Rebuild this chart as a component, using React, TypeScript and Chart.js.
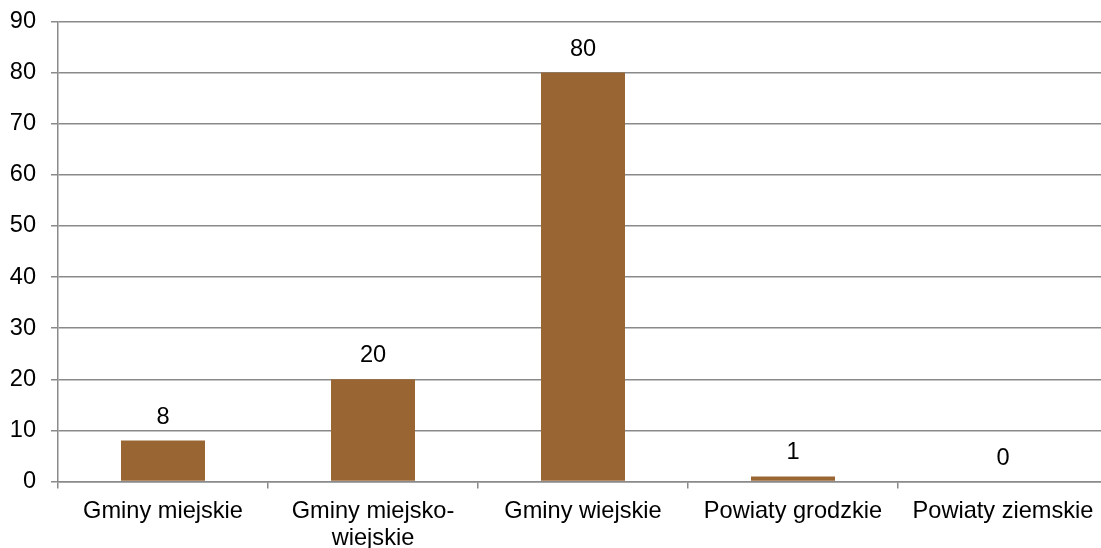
import React, { useEffect, useRef } from "react";
import { Chart, registerables } from "chart.js";

Chart.register(...registerables);

const categories: (string | string[])[] = [
  "Gminy miejskie",
  ["Gminy miejsko-", "wiejskie"],
  "Gminy wiejskie",
  "Powiaty grodzkie",
  "Powiaty ziemskie",
];
const values: number[] = [8, 20, 80, 1, 0];
const yMin = 0;
const yMax = 90;
const yStep = 10;

const FONT = "'Liberation Sans', Arial, sans-serif";
const FONT_SIZE = 23.6;
const GRID = "#8a8a8a";
const BAR = "#996633";

const valueLabels = {
  id: "valueLabels",
  afterDatasetsDraw(chart: any) {
    const ctx = chart.ctx;
    const meta = chart.getDatasetMeta(0);
    ctx.save();
    ctx.font = `${FONT_SIZE}px ${FONT}`;
    ctx.fillStyle = "#000000";
    ctx.textAlign = "center";
    ctx.textBaseline = "alphabetic";
    meta.data.forEach((el: any, i: number) => {
      ctx.fillText(String(values[i]), el.x, el.y - 17);
    });
    ctx.restore();
  },
};

export default function App() {
  const ref = useRef<HTMLCanvasElement | null>(null);
  useEffect(() => {
    if (!ref.current) return;
    const chart = new Chart(ref.current, {
      type: "bar",
      data: {
        labels: categories as any,
        datasets: [
          {
            data: values,
            backgroundColor: BAR,
            borderWidth: 0,
            barPercentage: 0.4,
            categoryPercentage: 1,
          },
        ],
      },
      options: {
        responsive: false,
        animation: false,
        layout: { padding: { top: 21.5, right: 4, left: 0, bottom: 0 } },
        plugins: {
          legend: { display: false },
          tooltip: { enabled: false },
        },
        scales: {
          x: {
            offset: true,
            grid: {
              display: true,
              drawOnChartArea: false,
              drawTicks: true,
              tickLength: 7,
              color: GRID,
              lineWidth: 1.5,
              offset: true,
            },
            border: { display: true, color: GRID, width: 1.5 },
            ticks: {
              color: "#000000",
              font: { family: FONT, size: FONT_SIZE, lineHeight: 1.12 },
              padding: 10,
              maxRotation: 0,
              minRotation: 0,
              autoSkip: false,
            },
            afterFit: (scale: any) => {
              scale.height = 560 - 481.5;
              scale.paddingLeft = 0;
              scale.paddingRight = 0;
            },
          },
          y: {
            min: yMin,
            max: yMax,
            grid: {
              color: GRID,
              drawTicks: true,
              tickLength: 7,
              lineWidth: 1.5,
            },
            border: { display: true, color: GRID, width: 1.5 },
            ticks: {
              stepSize: yStep,
              color: "#000000",
              font: { family: FONT, size: FONT_SIZE },
              padding: 15,
            },
            afterFit: (scale: any) => {
              scale.width = 58;
              scale.paddingTop = 0;
              scale.paddingBottom = 0;
            },
          },
        },
      },
      plugins: [valueLabels],
    });
    return () => chart.destroy();
  }, []);

  return (
    <div
      style={{
        position: "fixed",
        left: 0,
        top: 0,
        width: 1101,
        height: 548,
        overflow: "hidden",
        background: "#ffffff",
      }}
    >
      <canvas ref={ref} width={1112} height={560} style={{ width: 1112, height: 560, display: "block" }} />
    </div>
  );
}
